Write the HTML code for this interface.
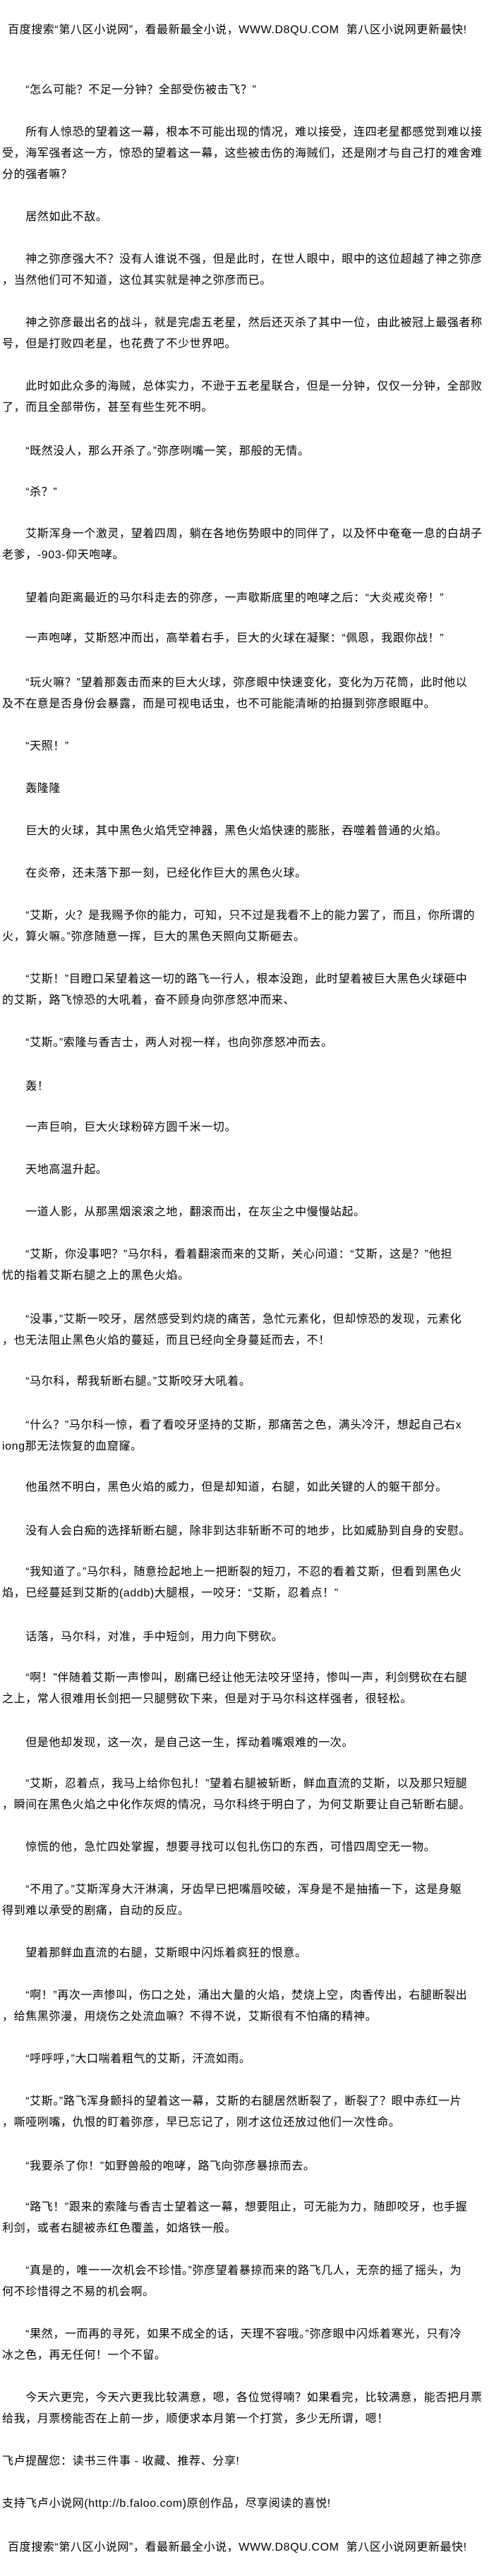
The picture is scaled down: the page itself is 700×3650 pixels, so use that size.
<!DOCTYPE html>
<html><head><meta charset="utf-8">
<style>
html,body{margin:0;padding:0;background:#fff;}
body{width:700px;height:3650px;position:relative;overflow:hidden;
font-family:"Liberation Sans","WenQuanYi Zen Hei","Noto Sans CJK SC",sans-serif;color:#000;}
.p{position:absolute;left:3px;font-size:16px;letter-spacing:0.6px;line-height:30px;white-space:nowrap;}
</style></head><body>
<div class="p" style="left:11px;top:28px">百度搜索“第八区小说网”，看最新最全小说，WWW.D8QU.COM&nbsp;&nbsp;第八区小说网更新最快!</div>

<div class="p" style="top:113px">　　“怎么可能？不足一分钟？全部受伤被击飞？”</div>
<div class="p" style="top:173px">　　所有人惊恐的望着这一幕，根本不可能出现的情况，难以接受，连四老星都感觉到难以接<br>受，海军强者这一方，惊恐的望着这一幕，这些被击伤的海贼们，还是刚才与自己打的难舍难<br>分的强者嘛？</div>
<div class="p" style="top:293px">　　居然如此不敌。</div>
<div class="p" style="top:353px">　　神之弥彦强大不？没有人谁说不强，但是此时，在世人眼中，眼中的这位超越了神之弥彦<br>，当然他们可不知道，这位其实就是神之弥彦而已。</div>
<div class="p" style="top:443px">　　神之弥彦最出名的战斗，就是完虐五老星，然后还灭杀了其中一位，由此被冠上最强者称<br>号，但是打败四老星，也花费了不少世界吧。</div>
<div class="p" style="top:533px">　　此时如此众多的海贼，总体实力，不逊于五老星联合，但是一分钟，仅仅一分钟，全部败<br>了，而且全部带伤，甚至有些生死不明。</div>
<div class="p" style="top:625px">　　“既然没人，那么开杀了。”弥彦咧嘴一笑，那般的无情。</div>
<div class="p" style="top:683px">　　“杀？”</div>
<div class="p" style="top:742px">　　艾斯浑身一个激灵，望着四周，躺在各地伤势眼中的同伴了，以及怀中奄奄一息的白胡子<br>老爹，-903-仰天咆哮。</div>
<div class="p" style="top:833px">　　望着向距离最近的马尔科走去的弥彦，一声歇斯底里的咆哮之后：“大炎戒炎帝！”</div>
<div class="p" style="top:890px">　　一声咆哮，艾斯怒冲而出，高举着右手，巨大的火球在凝聚：“佩恩，我跟你战！”</div>
<div class="p" style="top:953px">　　“玩火嘛？”望着那轰击而来的巨大火球，弥彦眼中快速变化，变化为万花筒，此时他以<br>及不在意是否身份会暴露，而是可视电话虫，也不可能能清晰的拍摄到弥彦眼眶中。</div>
<div class="p" style="top:1043px">　　“天照！”</div>
<div class="p" style="top:1103px">　　轰隆隆</div>
<div class="p" style="top:1163px">　　巨大的火球，其中黑色火焰凭空神器，黑色火焰快速的膨胀，吞噬着普通的火焰。</div>
<div class="p" style="top:1223px">　　在炎帝，还未落下那一刻，已经化作巨大的黑色火球。</div>
<div class="p" style="top:1283px">　　“艾斯，火？是我赐予你的能力，可知，只不过是我看不上的能力罢了，而且，你所谓的<br>火，算火嘛。”弥彦随意一挥，巨大的黑色天照向艾斯砸去。</div>
<div class="p" style="top:1373px">　　“艾斯！”目瞪口呆望着这一切的路飞一行人，根本没跑，此时望着被巨大黑色火球砸中<br>的艾斯，路飞惊恐的大吼着，奋不顾身向弥彦怒冲而来、</div>
<div class="p" style="top:1463px">　　“艾斯。”索隆与香吉士，两人对视一样，也向弥彦怒冲而去。</div>
<div class="p" style="top:1525px">　　轰！</div>
<div class="p" style="top:1583px">　　一声巨响，巨大火球粉碎方圆千米一切。</div>
<div class="p" style="top:1643px">　　天地高温升起。</div>
<div class="p" style="top:1703px">　　一道人影，从那黑烟滚滚之地，翻滚而出，在灰尘之中慢慢站起。</div>
<div class="p" style="top:1763px">　　“艾斯，你没事吧？”马尔科，看着翻滚而来的艾斯，关心问道：“艾斯，这是？”他担<br>忧的指着艾斯右腿之上的黑色火焰。</div>
<div class="p" style="top:1855px">　　“没事，”艾斯一咬牙，居然感受到灼烧的痛苦，急忙元素化，但却惊恐的发现，元素化<br>，也无法阻止黑色火焰的蔓延，而且已经向全身蔓延而去，不！</div>
<div class="p" style="top:1943px">　　“马尔科，帮我斩断右腿。”艾斯咬牙大吼着。</div>
<div class="p" style="top:2005px">　　“什么？”马尔科一惊，看了看咬牙坚持的艾斯，那痛苦之色，满头冷汗，想起自己右x<br>iong那无法恢复的血窟窿。</div>
<div class="p" style="top:2093px">　　他虽然不明白，黑色火焰的威力，但是却知道，右腿，如此关键的人的躯干部分。</div>
<div class="p" style="top:2155px">　　没有人会白痴的选择斩断右腿，除非到达非斩断不可的地步，比如威胁到自身的安慰。</div>
<div class="p" style="top:2213px">　　“我知道了。”马尔科，随意捡起地上一把断裂的短刀，不忍的看着艾斯，但看到黑色火<br>焰，已经蔓延到艾斯的(addb)大腿根，一咬牙：“艾斯，忍着点！”</div>
<div class="p" style="top:2305px">　　话落，马尔科，对准，手中短剑，用力向下劈砍。</div>
<div class="p" style="top:2363px">　　“啊！”伴随着艾斯一声惨叫，剧痛已经让他无法咬牙坚持，惨叫一声，利剑劈砍在右腿<br>之上，常人很难用长剑把一只腿劈砍下来，但是对于马尔科这样强者，很轻松。</div>
<div class="p" style="top:2455px">　　但是他却发现，这一次，是自己这一生，挥动着嘴艰难的一次。</div>
<div class="p" style="top:2513px">　　“艾斯，忍着点，我马上给你包扎！”望着右腿被斩断，鲜血直流的艾斯，以及那只短腿<br>，瞬间在黑色火焰之中化作灰烬的情况，马尔科终于明白了，为何艾斯要让自己斩断右腿。</div>
<div class="p" style="top:2603px">　　惊慌的他，急忙四处掌握，想要寻找可以包扎伤口的东西，可惜四周空无一物。</div>
<div class="p" style="top:2663px">　　“不用了。”艾斯浑身大汗淋漓，牙齿早已把嘴唇咬破，浑身是不是抽搐一下，这是身躯<br>得到难以承受的剧痛，自动的反应。</div>
<div class="p" style="top:2753px">　　望着那鲜血直流的右腿，艾斯眼中闪烁着疯狂的恨意。</div>
<div class="p" style="top:2813px">　　“啊！”再次一声惨叫，伤口之处，涌出大量的火焰，焚烧上空，肉香传出，右腿断裂出<br>，给焦黑弥漫，用烧伤之处流血嘛？不得不说，艾斯很有不怕痛的精神。</div>
<div class="p" style="top:2903px">　　“呼呼呼，”大口喘着粗气的艾斯，汗流如雨。</div>
<div class="p" style="top:2963px">　　“艾斯。”路飞浑身颤抖的望着这一幕，艾斯的右腿居然断裂了，断裂了？眼中赤红一片<br>，嘶哑咧嘴，仇恨的盯着弥彦，早已忘记了，刚才这位还放过他们一次性命。</div>
<div class="p" style="top:3055px">　　“我要杀了你！”如野兽般的咆哮，路飞向弥彦暴掠而去。</div>
<div class="p" style="top:3113px">　　“路飞！”跟来的索隆与香吉士望着这一幕，想要阻止，可无能为力，随即咬牙，也手握<br>利剑，或者右腿被赤红色覆盖，如烙铁一般。</div>
<div class="p" style="top:3203px">　　“真是的，唯一一次机会不珍惜。”弥彦望着暴掠而来的路飞几人，无奈的摇了摇头，为<br>何不珍惜得之不易的机会啊。</div>
<div class="p" style="top:3293px">　　“果然，一而再的寻死，如果不成全的话，天理不容哦。”弥彦眼中闪烁着寒光，只有冷<br>冰之色，再无任何！一个不留。</div>
<div class="p" style="top:3383px">　　今天六更完，今天六更我比较满意，嗯，各位觉得喃？如果看完，比较满意，能否把月票<br>给我，月票榜能否在上前一步，顺便求本月第一个打赏，多少无所谓，嗯！</div>
<div class="p" style="top:3473px">飞卢提醒您：读书三件事 - 收藏、推荐、分享!</div>
<div class="p" style="top:3533px">支持飞卢小说网(http://b.faloo.com)原创作品，尽享阅读的喜悦!</div>
<div class="p" style="left:11px;top:3595px">百度搜索“第八区小说网”，看最新最全小说，WWW.D8QU.COM&nbsp;&nbsp;第八区小说网更新最快!</div>
</body></html>
